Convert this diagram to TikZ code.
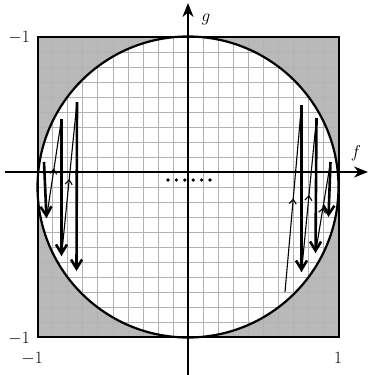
\documentclass[tikz,border=0pt]{standalone}
\usetikzlibrary{arrows.meta,decorations.markings}
\begin{document}
\begin{tikzpicture}[x=1pt,y=-1pt,
  lbl/.style={font=\fontsize{17}{19}\selectfont, inner sep=0pt},
  axis/.style={line width=2pt,-{Stealth[length=14pt,width=11pt,inset=4.5pt]}},
  thickarr/.style={line width=2.6pt,-{Straight Barb[length=9pt,width=11pt]}},
  thinarr/.style={line width=1.1pt, postaction={decorate}, decoration={markings,
     mark=at position 0.5 with {\arrow{Straight Barb[length=4.5pt,width=7pt,line width=1.1pt]}}}},
  gridline/.style={gray!60, line width=0.5pt},
  dot/.style={circle, fill=black, inner sep=0pt, minimum size=3.6pt}
]
\useasboundingbox (0,0) rectangle (370,375);
% shaded square, white disk
\fill[gray!55] (37.5,37) rectangle (338.5,337);
\fill[white] (188,187) circle (150.5);
% grid
\foreach \i in {1,...,19}{
  \draw[gridline] ({37.5+15.05*\i},37) -- ({37.5+15.05*\i},337);
  \draw[gridline] (37.5,{37+15*\i}) -- (338.5,{37+15*\i});
}
\draw[line width=2.2pt] (188,187) circle (150.5);
\draw[line width=2pt] (37.5,37) rectangle (338.5,337);
% axes
\coordinate (xs) at (5,172);
\coordinate (xe) at (368,172);
\coordinate (ys) at (188,375);
\coordinate (ye) at (188,3);
\draw[axis] (xs) -- (xe);
\draw[axis] (ys) -- (ye);
\node[lbl] (f) at (356,153) {$f$};
\node[lbl] (g) at (206,19) {$g$};
% tick labels
\node[lbl, anchor=east] (gtop) at (30,37.5) {$-1$};
\node[lbl, anchor=east] (gbot) at (30,339) {$-1$};
\node[lbl] (fleft) at (32,359) {$-1$};
\node[lbl] (fright) at (338,358) {$1$};
% dots
\foreach \k in {0,...,5}{ \node[dot] (d\k) at ({168+8.4*\k},180) {}; }
% left iterates
\coordinate (L1t) at (44,162);
\coordinate (L1b) at (46.5,218);
\coordinate (L2t) at (61.5,119);
\coordinate (L2b) at (61.5,256);
\coordinate (L3t) at (77,102);
\coordinate (L3b) at (76.5,271);
\draw[thickarr] (L1t) -- (L1b);
\draw[thinarr] (L1b) -- (L2t);
\draw[thickarr] (L2t) -- (L2b);
\draw[thinarr] (L2b) -- (L3t);
\draw[thickarr] (L3t) -- (L3b);
% right iterates
\coordinate (R0) at (285,292);
\coordinate (RAt) at (301.5,105);
\coordinate (RAb) at (301.5,272);
\coordinate (RBt) at (316.5,118);
\coordinate (RBb) at (315.5,253);
\coordinate (RCt) at (330.5,162);
\coordinate (RCb) at (328.5,217);
\draw[thinarr] (R0) -- (RAt);
\draw[thickarr] (RAt) -- (RAb);
\draw[thinarr] (RAb) -- (RBt);
\draw[thickarr] (RBt) -- (RBb);
\draw[thinarr] (RBb) -- (RCt);
\draw[thickarr] (RCt) -- (RCb);
\end{tikzpicture}
\end{document}
